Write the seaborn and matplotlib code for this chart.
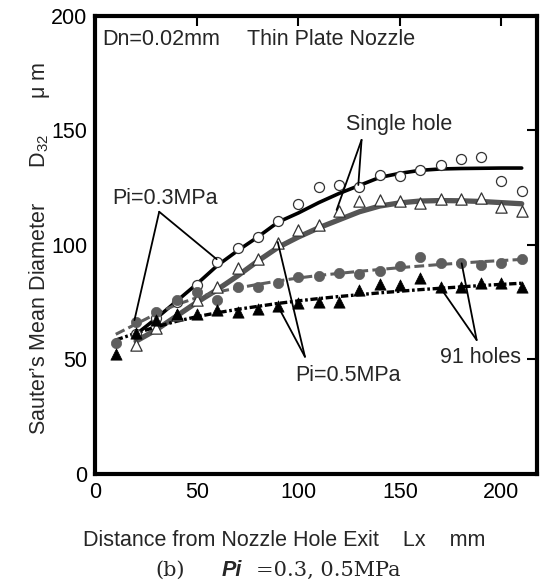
import matplotlib
matplotlib.use("Agg")
import matplotlib.pyplot as plt
import seaborn as sns
import pandas as pd

# ---------------- data ----------------
x_all = [10, 20, 30, 40, 50, 60, 70, 80, 90, 100, 110, 120, 130, 140, 150, 160, 170, 180, 190, 200, 210]
x_from20 = x_all[1:]

# Single hole, Pi=0.3MPa (open circles)
single_03 = [61, 68, 75, 82.5, 92.4, 98.8, 103.6, 110.6, 117.8, 125.2, 126.4, 125.2, 130.4, 130.0,
             132.9, 134.9, 137.7, 138.6, 128.1, 123.6]
# Single hole, Pi=0.5MPa (open triangles)
single_05 = [56.3, 63.6, 69.5, 76, 81.5, 89.8, 93.7, 101, 106.6, 108.7, 114.8, 119.2, 119.7, 119,
             118.2, 120.3, 119.9, 120.6, 116.6, 114.8]
# 91 holes, Pi=0.3MPa (filled gray circles)
holes_03 = [57.3, 66.5, 70.9, 76, 79.6, 76, 81.8, 81.8, 83.6, 86.2, 86.6, 87.9, 87.3, 88.8, 90.8,
            94.9, 92, 92, 91.4, 92.3, 93.9]
# 91 holes, Pi=0.5MPa (filled black triangles)
holes_05 = [52.2, 61.5, 67.2, 69.8, 69.9, 71.6, 70.9, 71.9, 73.4, 74.8, 75.2, 75.2, 80.3, 82.8, 82.5,
            85.4, 81.7, 81.7, 83.4, 83.3, 81.7]

# fitted curves
fit_single_03 = [61, 68, 75.5, 83, 91, 97.5, 103.5, 110, 114, 118.5, 122.5, 126, 129.5, 131.3, 132.6,
                 133.2, 133.4, 133.5, 133.6, 133.6]
fit_single_05 = [58, 63, 69, 75, 80.5, 86.5, 93, 99, 103.5, 107.5, 111, 114.5, 117, 118.4, 119.2,
                 119.4, 119.3, 119, 118.5, 118]
fit_holes_03 = [61, 65.5, 70, 74, 77, 79.5, 81.2, 82.8, 84.3, 85.6, 86.7, 87.6, 88.5, 89.3, 90.1,
                90.8, 91.5, 92.1, 92.7, 93.2, 93.7]
fit_holes_05 = [58.5, 61.5, 64.3, 66.7, 68.7, 70.4, 71.9, 73.2, 74.5, 75.6, 76.6, 77.5, 78.3, 79.1,
                79.8, 80.5, 81.1, 81.7, 82.3, 82.8, 83.3]

x_ticks = [0, 50, 100, 150, 200]
y_ticks = [0, 50, 100, 150, 200]

# ---------------- style ----------------
sns.set_theme(style="white")
plt.rcParams['font.family'] = ['Liberation Sans', 'DejaVu Sans']
plt.rcParams['mathtext.fontset'] = 'custom'
plt.rcParams['mathtext.rm'] = 'Liberation Sans'
plt.rcParams['mathtext.it'] = 'Liberation Sans:italic'
FS = 15.5

fig = plt.figure(figsize=(5.45, 5.84), dpi=100)
ax = fig.add_axes([0.1752, 0.1884, 0.810, 0.7842])

GRAY = '#5e5e5e'
GRAY2 = '#555555'

# fitted lines
sns.lineplot(x=x_from20, y=fit_single_03, ax=ax, color='black', lw=2.6, zorder=2)
sns.lineplot(x=x_from20, y=fit_single_05, ax=ax, color=GRAY2, lw=3.8, zorder=2)
sns.lineplot(x=x_all, y=fit_holes_03, ax=ax, color=GRAY, lw=2.2, linestyle=(0, (3.2, 1.4)), zorder=2)
sns.lineplot(x=x_all, y=fit_holes_05, ax=ax, color='black', lw=2.4, linestyle=(0, (2.2, 0.8, 0.8, 0.8)), zorder=2)

# markers
sns.scatterplot(x=x_from20, y=single_03, ax=ax, marker='o', s=52, facecolor='white',
                edgecolor='#333333', linewidth=0.9, zorder=3)
sns.scatterplot(x=x_from20, y=single_05, ax=ax, marker='^', s=66, facecolor='white',
                edgecolor='#333333', linewidth=0.9, zorder=4)
sns.scatterplot(x=x_all, y=holes_03, ax=ax, marker='o', s=55, color=GRAY,
                edgecolor=GRAY, linewidth=0.5, zorder=5)
sns.scatterplot(x=x_all, y=holes_05, ax=ax, marker='^', s=66, color='black',
                edgecolor='black', linewidth=0.5, zorder=6)

ax.set_xlim(0, 217.5)
ax.set_ylim(0, 200)
ax.set_xticks(x_ticks)
ax.set_yticks(y_ticks)
ax.set_xticklabels([str(v) for v in x_ticks], fontsize=FS)
ax.set_yticklabels([str(v) for v in y_ticks], fontsize=FS)
ax.tick_params(direction='in', length=7, width=1.5, top=True, right=True,
               labelcolor='black', color='black', pad=6)
for sp in ax.spines.values():
    sp.set_visible(True)
    sp.set_linewidth(3)
    sp.set_color('black')
ax.set_xlabel('')
ax.set_ylabel('')

# annotations
ax.text(0.015, 0.948, 'Dn=0.02mm', transform=ax.transAxes, fontsize=FS, ha='left', va='center')
ax.text(0.343, 0.948, 'Thin Plate Nozzle', transform=ax.transAxes, fontsize=FS, ha='left', va='center')

lk = dict(arrowstyle='-', color='black', lw=1.3, shrinkA=0, shrinkB=0)

def leader(label, txy, apex, ends):
    ax.text(txy[0], txy[1], label, fontsize=FS, ha='center', va='center', zorder=8)
    for e in ends:
        ax.annotate('', xy=e, xytext=apex, arrowprops=lk, zorder=7)

leader('Pi=0.3MPa', (34.2, 120.5), (31.4, 114.5), [(59.7, 93.8), (19.2, 67.2)])
leader('Single hole', (149.5, 152.4), (131.1, 145.9), [(118.8, 115.3), (129.5, 126.2)])
leader('Pi=0.5MPa', (124.4, 43.2), (103.2, 51.2), [(89.8, 101.3), (90.9, 71.6)])
leader('91 holes', (189.9, 50.7), (187.8, 58.5), [(171.3, 79.6), (180.4, 92.0)])

# axis labels
fig.text(0.522, 1 - 541 / 584, 'Distance from Nozzle Hole Exit    Lx    mm',
         fontsize=FS, ha='center', va='center')
fig.text(0.073, 1 - 248 / 584, 'Sauter\u2019s Mean Diameter      D$_{32}$      \u03bc m',
         fontsize=FS, ha='center', va='center', rotation=90)

# caption
cy = 1 - 570 / 584
SERIF = ['DejaVu Serif', 'Liberation Serif']
fig.text(155 / 545, cy, '(b)', fontsize=15, family=SERIF, ha='left', va='center')
fig.text(222 / 545, cy, 'Pi', fontsize=FS, fontweight='bold', fontstyle='italic',
         ha='left', va='center')
fig.text(256 / 545, cy, '=0.3, 0.5MPa', fontsize=15, family=SERIF, ha='left', va='center')

fig.savefig('out.png', dpi=100)
